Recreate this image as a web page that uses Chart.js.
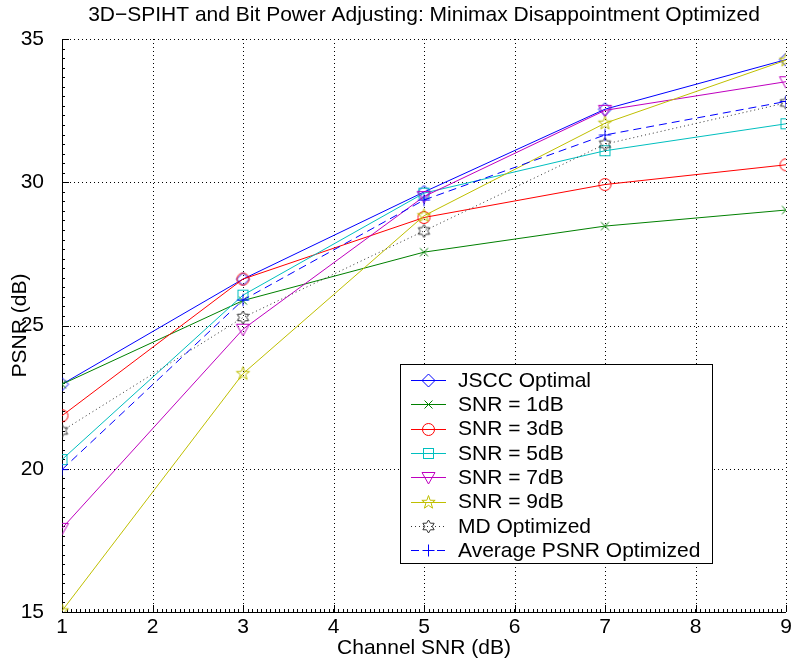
<!DOCTYPE html>
<html>
<head>
<meta charset="utf-8">
<script src="https://cdn.jsdelivr.net/npm/chart.js@4/dist/chart.umd.min.js"></script>
<style>
  body { margin: 0; background: #fff; }
  canvas { display: block; }
</style>
</head>
<body>
<canvas id="psnr_chart" width="793" height="665"></canvas>
<script>
// Channel SNR values (dB) on the x axis
const channel_snr = [1, 3, 5, 7, 9];

// PSNR (dB) for each curve
const jscc_optimal = [22.95, 26.62, 29.66, 32.55, 34.28];
const snr_1db      = [22.95, 25.87, 27.56, 28.47, 29.03];
const snr_3db      = [21.85, 26.62, 28.77, 29.92, 30.61];
const snr_5db      = [20.32, 26.06, 29.62, 31.10, 32.04];
const snr_7db      = [17.92, 24.87, 29.50, 32.51, 33.51];
const snr_9db      = [15.04, 23.32, 28.83, 32.06, 34.26];
const md_optimized = [21.32, 25.28, 28.30, 31.33, 32.77];
const avg_psnr_opt = [19.97, 25.89, 29.38, 31.65, 32.82];

const series_labels = [
  "JSCC Optimal",
  "SNR = 1dB",
  "SNR = 3dB",
  "SNR = 5dB",
  "SNR = 7dB",
  "SNR = 9dB",
  "MD Optimized",
  "Average PSNR Optimized"];

const series_values = [jscc_optimal, snr_1db, snr_3db, snr_5db, snr_7db, snr_9db, md_optimized, avg_psnr_opt];

// old MATLAB line colours
const series_colors = ["#0000FF", "#008000", "#FF0000", "#00BFBF", "#BF00BF", "#BFBF00", "#333333", "#0000FF"];
const series_markers = ["diamond", "x", "circle", "square", "tridown", "pentagram", "hexagram", "plus"];
const series_dash = [[], [], [], [], [], [], [1, 3], [8, 5]];

const x_ticks = [1, 2, 3, 4, 5, 6, 7, 8, 9];
const y_ticks = [15, 20, 25, 30, 35];

const font_family = "'Liberation Sans', Arial, sans-serif";
const font_size = 21;

// star-ish outline helper
function starPath(ctx, c, n, ro, ri, rot) {
  ctx.beginPath();
  for (var i = 0; i < n * 2; i++) {
    var r = (i % 2 === 0) ? ro : ri;
    var a = rot + i * Math.PI / n;
    var px = c + r * Math.cos(a), py = c + r * Math.sin(a);
    if (i === 0) ctx.moveTo(px, py); else ctx.lineTo(px, py);
  }
  ctx.closePath();
}

function makeMarker(kind, color) {
  var size = 17;
  var cv = document.createElement('canvas');
  cv.width = size; cv.height = size;
  var ctx = cv.getContext('2d');
  var c = size / 2;
  ctx.strokeStyle = color;
  ctx.lineWidth = 1;
  if (kind === 'diamond') {
    ctx.beginPath();
    ctx.moveTo(c, c - 6.5); ctx.lineTo(c + 6.5, c); ctx.lineTo(c, c + 6.5); ctx.lineTo(c - 6.5, c);
    ctx.closePath(); ctx.stroke();
  } else if (kind === 'x') {
    ctx.beginPath();
    ctx.moveTo(c - 4, c - 4); ctx.lineTo(c + 4, c + 4);
    ctx.moveTo(c + 4, c - 4); ctx.lineTo(c - 4, c + 4);
    ctx.stroke();
  } else if (kind === 'circle') {
    ctx.beginPath(); ctx.arc(c, c, 6, 0, Math.PI * 2); ctx.stroke();
  } else if (kind === 'square') {
    ctx.strokeRect(c - 5, c - 5, 10, 10);
  } else if (kind === 'tridown') {
    ctx.beginPath();
    ctx.moveTo(c - 6.5, c - 5); ctx.lineTo(c + 6.5, c - 5); ctx.lineTo(c, c + 6.5);
    ctx.closePath(); ctx.stroke();
  } else if (kind === 'pentagram') {
    starPath(ctx, c, 5, 7, 2.8, -Math.PI / 2); ctx.stroke();
  } else if (kind === 'hexagram') {
    starPath(ctx, c, 6, 6.5, 3.8, -Math.PI / 2); ctx.stroke();
  } else if (kind === 'plus') {
    ctx.beginPath();
    ctx.moveTo(c - 6, c); ctx.lineTo(c + 6, c);
    ctx.moveTo(c, c - 6); ctx.lineTo(c, c + 6);
    ctx.stroke();
  }
  return cv;
}

const marker_images = series_markers.map((m, i) => makeMarker(m, series_colors[i]));

// dotted grid, solid left/bottom axes, inward ticks
const axesPlugin = {
  id: 'matlabAxes',
  beforeDraw(chart) {
    var ctx = chart.ctx;
    ctx.save();
    ctx.fillStyle = '#fff';
    ctx.fillRect(0, 0, chart.width, chart.height);
    ctx.restore();
  },
  beforeDatasetsDraw(chart) {
    var ctx = chart.ctx, a = chart.chartArea;
    var xs = chart.scales.x, ys = chart.scales.y;
    ctx.save();
    ctx.strokeStyle = '#000';
    ctx.lineWidth = 1;
    ctx.setLineDash([1, 3]);
    x_ticks.slice(1).forEach(v => {
      var px = Math.round(xs.getPixelForValue(v)) + 0.5;
      ctx.beginPath(); ctx.moveTo(px, a.bottom); ctx.lineTo(px, a.top); ctx.stroke();
    });
    y_ticks.slice(1).forEach(v => {
      var py = Math.round(ys.getPixelForValue(v)) + 0.5;
      ctx.beginPath(); ctx.moveTo(a.left, py); ctx.lineTo(a.right, py); ctx.stroke();
    });
    ctx.setLineDash([]);
    // minor ticks
    ctx.beginPath();
    for (var v = 1; v <= 9.0001; v += 0.05) {
      var px = Math.round(xs.getPixelForValue(v)) + 0.5;
      ctx.moveTo(px, a.bottom); ctx.lineTo(px, a.bottom - 3);
    }
    for (var w = 15; w <= 35.0001; w += 1 / 3) {
      var py = Math.round(ys.getPixelForValue(w)) + 0.5;
      ctx.moveTo(a.left, py); ctx.lineTo(a.left + 3, py);
    }
    ctx.stroke();
    // major ticks
    ctx.beginPath();
    x_ticks.forEach(v => {
      var px = Math.round(xs.getPixelForValue(v)) + 0.5;
      ctx.moveTo(px, a.bottom); ctx.lineTo(px, a.bottom - 7);
    });
    y_ticks.forEach(v => {
      var py = Math.round(ys.getPixelForValue(v)) + 0.5;
      ctx.moveTo(a.left, py); ctx.lineTo(a.left + 7, py);
    });
    ctx.stroke();
    // axes
    var lx = Math.round(a.left) + 0.5, by = Math.round(a.bottom) + 0.5;
    ctx.beginPath();
    ctx.moveTo(lx, a.top); ctx.lineTo(lx, by); ctx.lineTo(a.right, by);
    ctx.stroke();
    // title
    ctx.fillStyle = '#000';
    ctx.font = font_size + 'px ' + font_family;
    ctx.textAlign = 'center';
    ctx.textBaseline = 'middle';
    ctx.fillText('3D\u2212SPIHT and Bit Power Adjusting: Minimax Disappointment Optimized', (a.left + a.right) / 2, 15);
    ctx.restore();
  }
};

// legend box inside the plot, MATLAB style
const legendPlugin = {
  id: 'matlabLegend',
  afterDraw(chart) {
    var ctx = chart.ctx;
    var bx = 400.5, by = 364.5, bw = 312, bh = 199;
    ctx.save();
    ctx.fillStyle = '#fff';
    ctx.fillRect(bx, by, bw, bh);
    ctx.strokeStyle = '#000';
    ctx.lineWidth = 1;
    ctx.strokeRect(bx, by, bw, bh);
    ctx.font = font_size + 'px ' + font_family;
    ctx.textBaseline = 'middle';
    ctx.textAlign = 'left';
    series_labels.forEach((label, i) => {
      var cy = 380 + i * 24.3;
      var ly = Math.round(cy) + 0.5;
      ctx.strokeStyle = series_colors[i];
      ctx.setLineDash(series_dash[i]);
      ctx.beginPath(); ctx.moveTo(411, ly); ctx.lineTo(446, ly); ctx.stroke();
      ctx.setLineDash([]);
      var img = marker_images[i];
      ctx.drawImage(img, 428.5 - img.width / 2, ly - img.height / 2);
      ctx.fillStyle = '#000';
      ctx.fillText(label, 458, cy + 1);
    });
    ctx.restore();
  }
};

function contentLoaded() {
  var datasets = series_values.map((vals, i) => ({
    label: series_labels[i],
    data: channel_snr.map((x, j) => ({ x: x, y: vals[j] })),
    borderColor: series_colors[i],
    backgroundColor: 'transparent',
    borderWidth: 1,
    borderDash: series_dash[i],
    pointStyle: marker_images[i],
    pointRadius: 6,
    tension: 0,
    fill: false,
    order: -i // later series on top, as in MATLAB
  }));

  new Chart(document.getElementById('psnr_chart'), {
    type: 'line',
    data: { datasets: datasets },
    options: {
      responsive: false,
      devicePixelRatio: 1,
      animation: false,
      events: [],
      layout: { padding: { top: 39, right: 6, left: 0, bottom: 0 } },
      scales: {
        x: {
          type: 'linear',
          min: 1, max: 9,
          afterFit: s => { s.height = 53; s.paddingLeft = 0; s.paddingRight = 0; },
          afterBuildTicks: s => { s.ticks = x_ticks.map(v => ({ value: v })); },
          grid: { display: false, drawTicks: false },
          border: { display: false },
          ticks: { color: '#000', padding: 3, font: { family: font_family, size: font_size }, maxRotation: 0 },
          title: { display: true, text: 'Channel SNR (dB)', color: '#000', padding: { top: 0 }, font: { family: font_family, size: font_size } }
        },
        y: {
          min: 15, max: 35,
          afterFit: s => { s.width = 62; s.paddingTop = 0; s.paddingBottom = 0; },
          afterBuildTicks: s => { s.ticks = y_ticks.map(v => ({ value: v })); },
          grid: { display: false, drawTicks: false },
          border: { display: false },
          ticks: { color: '#000', padding: 18, font: { family: font_family, size: font_size } },
          title: { display: true, text: 'PSNR (dB)', color: '#000', padding: { top: 8, bottom: 0 }, font: { family: font_family, size: font_size } }
        }
      },
      plugins: {
        legend: { display: false },
        tooltip: { enabled: false }
      }
    },
    plugins: [axesPlugin, legendPlugin]
  });
}

document.addEventListener('DOMContentLoaded', contentLoaded, false);
</script>
</body>
</html>
